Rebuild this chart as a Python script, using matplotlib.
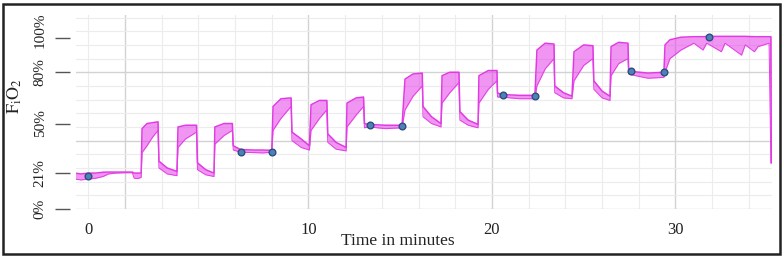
import matplotlib.pyplot as plt
from matplotlib.patches import Rectangle
from matplotlib.transforms import ScaledTranslation
import numpy as np

# FiO2 trace: time (min), upper and lower edge of the noisy band (%)
t = [-2.72, -2.4, -2.0, -1.6, -1.2, -0.9, -0.5, 0.0, 0.4, 0.5, 0.7, 0.88,
     0.93, 1.2, 1.5, 1.8, 1.85, 2.3, 2.83,
     2.89, 3.3, 3.9, 3.95, 4.4, 4.85,
     4.9, 5.4, 5.85, 5.9, 6.3, 7.0, 7.5, 8.0,
     8.07, 8.5, 9.05, 9.1, 9.6, 10.05,
     10.14, 10.6, 11.0, 11.05, 11.5, 12.05,
     12.1, 12.6, 13.0, 13.05, 13.3, 14.2, 15.1,
     15.26, 15.7, 16.2, 16.24, 16.7, 17.22,
     17.28, 17.7, 18.2, 18.25, 18.7, 19.24,
     19.29, 19.8, 20.27, 20.3, 20.5, 21.5, 22.34,
     22.45, 22.9, 23.38, 23.42, 23.9, 24.36,
     24.47, 25.0, 25.5, 25.55, 26.0, 26.43,
     26.49, 26.9, 27.41, 27.45, 27.6, 28.5, 29.37,
     29.43, 29.7, 30.3, 31.0, 31.5, 31.7, 32.5, 32.7, 33.6, 33.8, 34.3, 34.5, 35.1,
     35.2, 35.22]
hi = [21.0, 20.5, 21.0, 21.0, 21.5, 21.6, 21.6, 21.6, 21.6, 21.0, 21.0, 21.0,
      47, 50, 50.5, 51, 28, 24, 22,
      48, 49, 49, 27, 23, 21,
      48, 50, 50, 37, 34.8, 34.5, 34.5, 34.3,
      60, 64.5, 65, 45, 41, 37,
      61, 63.5, 63.5, 44, 39, 36,
      62, 65, 65.5, 50, 49.5, 49, 49,
      76, 79, 79.5, 60, 54, 50,
      78, 80, 80, 57, 52, 49.5,
      78, 81, 81, 68, 67, 66.5, 66.5,
      93, 97, 96.5, 72, 68, 66,
      92, 96, 95.5, 75, 69, 66,
      95, 97.5, 97, 81, 80.5, 79.5, 80,
      96, 99, 100.5, 100.8, 100.8, 101, 101, 101, 101, 101, 100.8, 100.8, 100.8,
      100.8, 27]
lo = [17.5, 17.0, 17.5, 18.0, 19.0, 20.5, 21.0, 21.2, 21.2, 18.0, 17.8, 18.5,
      33, 37, 42, 46, 24, 20.5, 19.5,
      36, 41, 45, 23, 20, 19,
      38, 43, 46, 34.5, 33.2, 33, 32.8, 33.2,
      46, 53, 60, 40, 36, 34.5,
      46, 53, 58, 39, 35, 34,
      48, 55, 60, 47.5, 48, 47, 47.5,
      58, 66, 72, 54, 50, 48,
      62, 68, 74, 52, 49, 47.5,
      62, 70, 75, 65.5, 65.5, 64.5, 64.5,
      72, 82, 88, 68, 65, 64.5,
      75, 84, 88, 70, 65, 63.5,
      78, 85, 88, 79, 78.5, 76.5, 77,
      80, 88, 93, 97, 93, 97, 92, 97, 90, 96, 92, 95, 97,
      27, 27]

# points marked on the trace
mark_t = [-2.02, 6.32, 8.01, 13.35, 15.10, 20.60, 22.34, 27.57, 29.37, 31.83]
mark_v = [19.3, 33.3, 33.3, 49.1, 48.5, 66.7, 66.1, 80.7, 80.1, 100.6]

ytick_vals = [0, 21, 50, 80, 100]
ytick_labels = ['0%', '21%', '50%', '80%', '100%']
xtick_vals = [-2, 10, 20, 30]
xtick_labels = ['0', '10', '20', '30']

plt.rcParams['font.family'] = ['Liberation Serif', 'DejaVu Serif']
plt.rcParams['mathtext.fontset'] = 'stix'

fig = plt.figure(figsize=(7.84, 2.61), dpi=100)
ax = fig.add_axes([76 / 784, 1 - 209 / 261, 696 / 784, 194 / 261])

# grid
for gx in np.arange(-2, 35, 2):
    major = gx % 10 == 0
    ax.axvline(gx, color='#d2d2d2' if major else '#ececec', lw=1.0 if major else 0.8, zorder=0)
for gy in np.arange(0, 113, 8):
    major = gy % 40 == 0
    ax.axhline(gy, color='#d2d2d2' if major else '#ececec', lw=1.0 if major else 0.8, zorder=0)

ax.fill_between(t, lo, hi, color='#e43ee6', alpha=0.55, lw=0, zorder=2)
ax.plot(t, hi, color='#e03ae3', lw=1.1, zorder=3)
ax.plot(t, lo, color='#e43ee6', lw=0.7, zorder=3)
ax.plot(mark_t, mark_v, 'o', ms=4.8, mfc='#4f80b8', mec='#2c4f7c', mew=1.0, zorder=4)

ax.set_xlim(-2.67, 35.26)
ax.set_ylim(0, 113.5)
for s in ax.spines.values():
    s.set_visible(False)
ax.spines['left'].set_position(('outward', 4))

ax.set_yticks(ytick_vals)
ax.set_yticklabels(ytick_labels, rotation=90, va='center', fontsize=11, color='#222222')
ax.tick_params(axis='y', length=11, width=1, color='#555555', pad=6)
# the top label sits a little above its tick in the original
top_lbl = ax.get_yticklabels()[-1]
top_lbl.set_transform(top_lbl.get_transform() + ScaledTranslation(0, 8 / 100, fig.dpi_scale_trans))
ax.set_xticks(xtick_vals)
ax.set_xticklabels(xtick_labels, fontsize=12, color='#222222')
ax.tick_params(axis='x', length=0, pad=9)

ax.set_xlabel('Time in minutes', fontsize=12.5, color='#222222')
ax.xaxis.set_label_coords(0.4626, -0.125)
fig.text(15 / 784, 1 - 96 / 261, r'$\mathrm{F_iO_2}$', rotation=90, ha='center', va='center',
         fontsize=13, color='#222222')

# frame around the figure
fig.add_artist(Rectangle((3 / 784, 1 - 254 / 261), 777 / 784, 250 / 261, transform=fig.transFigure,
                         fill=False, lw=1.8, ec='#222222'))

fig.savefig('out.png', dpi=100)
